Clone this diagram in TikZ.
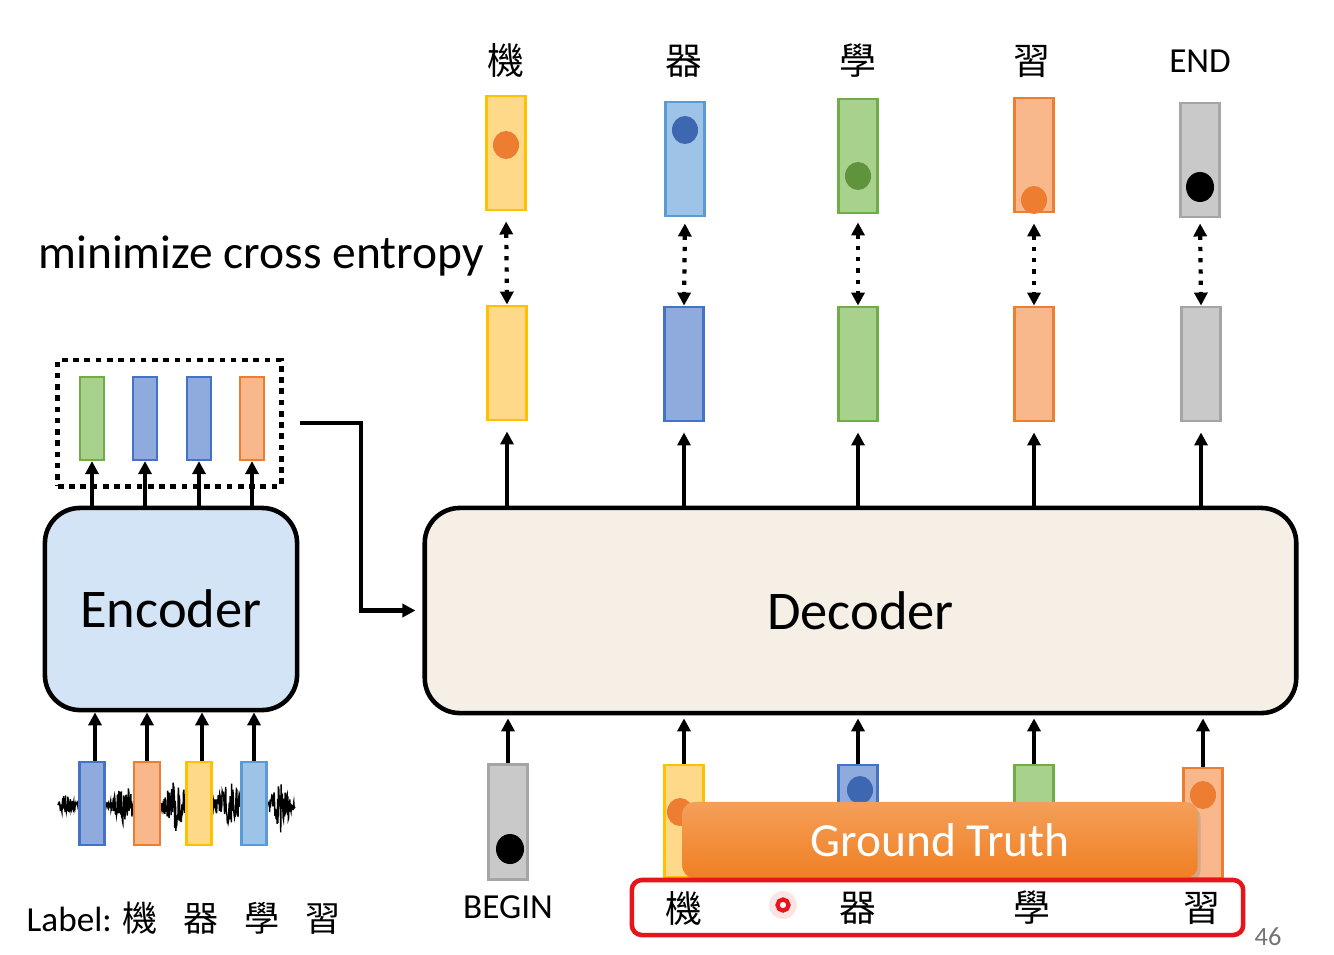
\documentclass[tikz,border=0pt]{standalone}
\usepackage{fontspec}
\setmainfont{Carlito}
\newfontfamily\cjk{Noto Sans CJK TC}
\usetikzlibrary{arrows.meta,positioning,shadows}

\definecolor{yelfill}{HTML}{FFD98A}
\definecolor{yeldraw}{HTML}{FFC000}
\definecolor{bluefill}{HTML}{8FAADC}
\definecolor{bluedraw}{HTML}{4472C4}
\definecolor{lbluefill}{HTML}{9DC3E6}
\definecolor{lbluedraw}{HTML}{5B9BD5}
\definecolor{grnfill}{HTML}{A9D18E}
\definecolor{grndraw}{HTML}{70AD47}
\definecolor{orgfill}{HTML}{F8B88C}
\definecolor{orgdraw}{HTML}{ED7D31}
\definecolor{gryfill}{HTML}{C9C9C9}
\definecolor{grydraw}{HTML}{A5A5A5}
\definecolor{encfill}{HTML}{D2E4F5}
\definecolor{decfill}{HTML}{F5EFE6}
\definecolor{gtfill}{HTML}{F07F22}
\definecolor{laser}{HTML}{E8141C}

\tikzset{
  vec/.style={draw, line width=0.8pt, minimum width=0.39cm, minimum height=1.14cm, inner sep=0pt},
  svec/.style={draw, line width=0.6pt, minimum width=0.24cm, minimum height=0.83cm, inner sep=0pt},
  yel/.style={fill=yelfill, draw=yeldraw},
  blu/.style={fill=bluefill, draw=bluedraw},
  lblu/.style={fill=lbluefill, draw=lbluedraw},
  grn/.style={fill=grnfill, draw=grndraw},
  org/.style={fill=orgfill, draw=orgdraw},
  gry/.style={fill=gryfill, draw=grydraw},
  coder/.style={draw, line width=1.3pt, rounded corners=0.35cm, font=\fontsize{15.5}{18}\selectfont},
  arr/.style={line width=1pt, -{Triangle[length=1.3mm, width=1.3mm]}},
  match/.style={line width=1.2pt, dotted, {Triangle[length=1.3mm, width=1.3mm]}-{Triangle[length=1.3mm, width=1.3mm]}},
  tok/.style={font=\cjk\fontsize{10.5}{12}\selectfont, inner sep=0pt},
  word/.style={font=\fontsize{10}{12}\selectfont, inner sep=0pt}
}

\begin{document}
\begin{tikzpicture}[x=0.01cm, y=-0.01cm]
\useasboundingbox (0,0) rectangle (1334,954);

% output distributions
\node[word] (l5) at (1200,61) {END};
\node[tok] (l1) at (506,61) {機};
\node[tok] (l2) at (684,61) {器};
\node[tok] (l3) at (858,61) {學};
\node[tok] (l4) at (1032,61) {習};

\node[vec, yel] (t1) at (506,153) {};
\node[vec, lblu] (t2) at (685,159) {};
\node[vec, grn] (t3) at (858,156) {};
\node[vec, org] (t4) at (1034,155) {};
\node[vec, gry] (t5) at (1200,160) {};
\fill[orgdraw] (506,145) circle[x radius=0.13cm, y radius=0.14cm];
\fill[bluedraw!90!black] (685,130) circle[x radius=0.13cm, y radius=0.14cm];
\fill[grndraw!85!black] (858,176) circle[x radius=0.13cm, y radius=0.14cm];
\fill[orgdraw] (1034,200) circle[x radius=0.13cm, y radius=0.14cm];
\fill[black] (1200,187) circle[x radius=0.14cm, y radius=0.15cm];

\node[font=\fontsize{13.5}{16}\selectfont, inner sep=0pt] (ce) at (261,256) {minimize cross entropy};

% decoder outputs
\node[vec, yel] (o1) at (507,363) {};
\node[vec, blu] (o2) at (684,364) {};
\node[vec, grn] (o3) at (858,364) {};
\node[vec, org] (o4) at (1034,364) {};
\node[vec, gry] (o5) at (1201,364) {};

\draw[match, shorten <=0.1cm] (t1.south) -- (o1.north);
\draw[match, shorten <=0.06cm] (t2.south) -- (o2.north);
\draw[match, shorten <=0.08cm] (t3.south) -- (o3.north);
\draw[match, shorten <=0.1cm] (t4.south) -- (o4.north);
\draw[match, shorten <=0.05cm] (t5.south) -- (o5.north);

% encoder side
\node[draw, line width=1.4pt, dash pattern=on 1.6pt off 1.6pt, minimum width=2.23cm, minimum height=1.26cm] (mem) at (169.5,423) {};
\node[svec, grn] (e1) at (92,418.5) {};
\node[svec, blu] (e2) at (145,418.5) {};
\node[svec, blu] (e3) at (199,418.5) {};
\node[svec, org] (e4) at (252,418.5) {};

\node[coder, fill=encfill, minimum width=2.52cm, minimum height=2.02cm] (enc) at (171,609) {Encoder};
\node[coder, fill=decfill, minimum width=8.71cm, minimum height=2.05cm] (dec) at (860.5,610.5) {Decoder};

\draw[arr] (enc.north -| e1) -- (e1.south);
\draw[arr] (enc.north -| e2) -- (e2.south);
\draw[arr] (enc.north -| e3) -- (e3.south);
\draw[arr] (enc.north -| e4) -- (e4.south);

\draw[arr, line width=1.3pt, shorten >=0.07cm] ([xshift=0.16cm]mem.east) -- (361,423) |- (dec.west);

% audio input
\pgfmathsetseed{11}
\draw[line width=0.4pt] plot[domain=58:295, samples=600] (\x, {805 + rand*(1.5 + 10*exp(-((\x-66)/7)^2) + 20*exp(-((\x-124)/10)^2)
  + 26*exp(-((\x-176)/10)^2) + 24*exp(-((\x-229)/11)^2) + 26*exp(-((\x-281)/9)^2))});
\node[svec, blu, minimum width=0.25cm] (a1) at (92,803.5) {};
\node[svec, org, minimum width=0.26cm] (a2) at (147,803.5) {};
\node[svec, yel, minimum width=0.25cm] (a3) at (199,803.5) {};
\node[svec, lblu, minimum width=0.25cm] (a4) at (254,803.5) {};
\draw[arr] ([xshift=0.03cm]a1.north) -- ([xshift=0.03cm]a1.north |- enc.south);
\draw[arr] (a2.north) -- (a2.north |- enc.south);
\draw[arr] ([xshift=0.03cm]a3.north) -- ([xshift=0.03cm]a3.north |- enc.south);
\draw[arr] (a4.north) -- (a4.north |- enc.south);

\node[anchor=west, word] (lab) at (26,918) {Label: {\cjk 機\hspace{0.26cm}器\hspace{0.26cm}學\hspace{0.26cm}習}};

% decoder outputs arrows
\draw[arr, shorten >=0.1cm] (dec.north -| o1) -- (o1.south);
\draw[arr, shorten >=0.1cm] (dec.north -| o2) -- (o2.south);
\draw[arr, shorten >=0.1cm] (dec.north -| o3) -- (o3.south);
\draw[arr, shorten >=0.1cm] (dec.north -| o4) -- (o4.south);
\draw[arr, shorten >=0.1cm] (dec.north -| o5) -- (o5.south);

% decoder inputs
\node[vec, gry, minimum height=1.15cm] (i1) at (508,822) {};
\node[vec, yel, minimum height=1.12cm] (i2) at (684,821) {};
\node[vec, blu, minimum height=1.12cm] (i3) at (858,821) {};
\node[vec, grn, minimum height=1.12cm] (i4) at (1034,821) {};
\node[vec, org, minimum height=1.10cm] (i5) at (1203,823) {};
\fill[black] (510,849) circle[x radius=0.14cm, y radius=0.15cm];
\fill[orgdraw] (680,812) circle[x radius=0.13cm, y radius=0.14cm];
\fill[bluedraw!90!black] (860,790) circle[x radius=0.13cm, y radius=0.14cm];
\fill[orgdraw] (1203,795) circle[x radius=0.13cm, y radius=0.14cm];
\node[word] (begin) at (508,907) {BEGIN};

\draw[arr, shorten >=0.03cm] (i1.north) -- (i1.north |- dec.south);
\draw[arr, shorten >=0.03cm] (i2.north) -- (i2.north |- dec.south);
\draw[arr, shorten >=0.03cm] (i3.north) -- (i3.north |- dec.south);
\draw[arr, shorten >=0.03cm] (i4.north) -- (i4.north |- dec.south);
\draw[arr, shorten >=0.03cm] (i5.north) -- (i5.north |- dec.south);

% ground truth
\node[top color=gtfill!75!white, bottom color=gtfill, rounded corners=0.12cm, minimum width=5.15cm, minimum height=0.76cm, text=white,
  font=\fontsize{13.5}{16}\selectfont, drop shadow={opacity=0.3, shadow xshift=0.03cm, shadow yshift=-0.04cm}] (gt) at (940,840) {Ground Truth};
\node[draw=laser, line width=1.3pt, rounded corners=0.1cm, minimum width=6.11cm, minimum height=0.55cm] (gtbox) at (937.5,907.5) {};
\node[tok] (w1) at (684,908) {機};
\node[tok] (w2) at (858,908) {器};
\node[tok] (w3) at (1032,908) {學};
\node[tok] (w4) at (1202,908) {習};
\fill[laser!12] (783,905) circle (0.14cm);
\draw[laser, line width=1.2pt, fill=white] (783,905) circle (0.055cm);

\node[text=black!55, font=\fontsize{7.5}{9}\selectfont] (page) at (1268,937) {46};
\end{tikzpicture}
\end{document}
